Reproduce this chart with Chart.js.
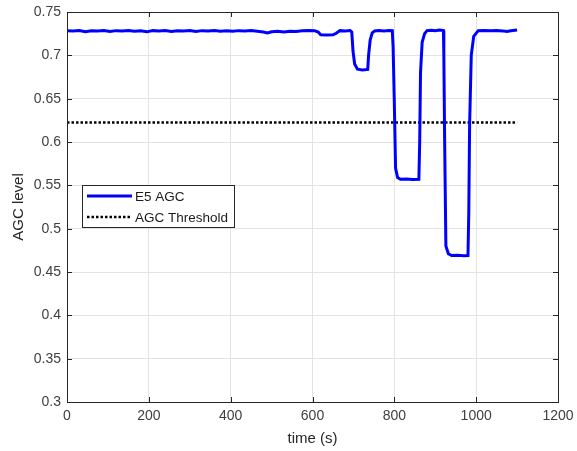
<!DOCTYPE html>
<html>
<head>
<meta charset="utf-8">
<script src="https://cdn.jsdelivr.net/npm/chart.js@4"></script>
<style>
  html, body { margin: 0; padding: 0; background: #fff; }
  #wrap { width: 577px; height: 451px; }
</style>
</head>
<body>
<div id="wrap"><canvas id="chart" width="577" height="451"></canvas></div>
<script>
// E5 AGC samples (time in s, level)
const tiempo = [
  0, 15, 30, 45, 60, 75, 90, 105, 120, 135, 150, 165, 180, 195, 210, 225, 240, 255, 270, 285,
  300, 315, 330, 345, 360, 375, 390, 405, 420, 435, 450, 465, 480, 490, 500, 515, 530, 545, 560, 575,
  590, 605, 614, 620, 635, 650, 658, 667, 680, 692, 696, 699, 703, 710, 722, 735, 737, 741, 746, 752,
  762, 775, 787, 795, 797, 800, 803, 808, 815, 830, 845, 860, 862, 864, 868, 874, 880, 890, 900, 910,
  920, 921, 923, 926, 932, 940, 955, 970, 980, 982, 984, 988, 994, 1005, 1020, 1035, 1050, 1065, 1075, 1085,
  1100
];
const agc = [
  0.7285, 0.7282, 0.7287, 0.7272, 0.7284, 0.7280, 0.7286, 0.7275, 0.7285, 0.7281, 0.7287, 0.7278, 0.7284, 0.7271, 0.7285, 0.7280, 0.7286, 0.7276, 0.7284, 0.7282,
  0.7286, 0.7274, 0.7285, 0.7281, 0.7286, 0.7279, 0.7284, 0.7277, 0.7285, 0.7282, 0.7286, 0.7278, 0.7270, 0.7258, 0.7272, 0.7278, 0.7270, 0.7279, 0.7275, 0.7284,
  0.7286, 0.7285, 0.7268, 0.7237, 0.7234, 0.7236, 0.7255, 0.7285, 0.7282, 0.7286, 0.7270, 0.7050, 0.6900, 0.6840, 0.6832, 0.6838, 0.7000, 0.7180, 0.7260, 0.7282,
  0.7286, 0.7281, 0.7287, 0.7285, 0.7100, 0.6450, 0.5700, 0.5590, 0.5570, 0.5572, 0.5568, 0.5570, 0.6000, 0.6800, 0.7150, 0.7250, 0.7285, 0.7290, 0.7284, 0.7291,
  0.7285, 0.7000, 0.6000, 0.4800, 0.4710, 0.4690, 0.4693, 0.4688, 0.4690, 0.5200, 0.6200, 0.7000, 0.7220, 0.7285, 0.7287, 0.7284, 0.7286, 0.7282, 0.7274, 0.7283,
  0.7292
];
const umbralTiempo = [0, 1100];
const umbral = [0.6225, 0.6225];

const ticksX = [0, 200, 400, 600, 800, 1000, 1200];
const ticksY = [0.3, 0.35, 0.4, 0.45, 0.5, 0.55, 0.6, 0.65, 0.7, 0.75];

const colorEje = '#262626';
const fuente = "'Liberation Sans', Arial, Helvetica, sans-serif";

// caja del eje con marcas hacia dentro (estilo MATLAB)
const cajaEjes = {
  id: 'cajaEjes',
  afterDatasetsDraw(chart) {
    const { ctx, chartArea: a, scales } = chart;
    const largo = 5;
    ctx.save();
    ctx.strokeStyle = colorEje;
    ctx.lineWidth = 1;
    ctx.beginPath();
    ticksX.forEach(v => {
      const px = Math.round(scales.x.getPixelForValue(v)) + 0.5;
      ctx.moveTo(px, a.bottom); ctx.lineTo(px, a.bottom - largo);
      ctx.moveTo(px, a.top); ctx.lineTo(px, a.top + largo);
    });
    ticksY.forEach(v => {
      const py = Math.round(scales.y.getPixelForValue(v)) + 0.5;
      ctx.moveTo(a.left, py); ctx.lineTo(a.left + largo, py);
      ctx.moveTo(a.right, py); ctx.lineTo(a.right - largo, py);
    });
    ctx.stroke();
    ctx.strokeRect(Math.round(a.left) + 0.5, Math.round(a.top) + 0.5,
      Math.round(a.right - a.left), Math.round(a.bottom - a.top));
    ctx.restore();
  }
};

// leyenda dentro del area de trazado
const leyenda = {
  id: 'leyenda',
  afterDraw(chart) {
    const { ctx } = chart;
    const x0 = 82, y0 = 185, w = 152, h = 42;
    ctx.save();
    ctx.fillStyle = '#fff';
    ctx.fillRect(x0, y0, w, h);
    ctx.strokeStyle = colorEje;
    ctx.lineWidth = 1;
    ctx.strokeRect(x0 + 0.5, y0 + 0.5, w, h);
    chart.data.datasets.forEach((ds, i) => {
      const y = y0 + 11 + i * 21;
      ctx.beginPath();
      ctx.strokeStyle = ds.borderColor;
      ctx.lineWidth = ds.borderWidth;
      ctx.setLineDash(ds.borderDash || []);
      ctx.moveTo(87, y);
      ctx.lineTo(132, y);
      ctx.stroke();
      ctx.setLineDash([]);
      ctx.fillStyle = '#1a1a1a';
      ctx.font = '13.5px ' + fuente;
      ctx.textBaseline = 'middle';
      ctx.fillText(ds.label, 135, y + 1);
    });
    ctx.restore();
  }
};

new Chart(document.getElementById('chart').getContext('2d'), {
  type: 'line',
  data: {
    datasets: [
      {
        label: 'E5 AGC',
        data: tiempo.map((t, i) => ({ x: t, y: agc[i] })),
        borderColor: '#0000ff',
        borderWidth: 3,
        pointRadius: 0,
        tension: 0
      },
      {
        label: 'AGC Threshold',
        data: umbralTiempo.map((t, i) => ({ x: t, y: umbral[i] })),
        borderColor: '#000000',
        borderWidth: 2.5,
        borderDash: [2.5, 2],
        pointRadius: 0
      }
    ]
  },
  options: {
    responsive: false,
    animation: false,
    layout: { padding: { left: 0, top: 12, right: 19, bottom: 0 } },
    plugins: { legend: { display: false }, tooltip: { enabled: false } },
    scales: {
      x: {
        type: 'linear',
        min: 0,
        max: 1200,
        afterFit: s => { s.height = 49; s.paddingLeft = 0; s.paddingRight = 0; },
        afterBuildTicks: s => { s.ticks = ticksX.map(v => ({ value: v })); },
        grid: { color: '#e3e3e3', drawTicks: false },
        border: { display: false },
        ticks: {
          padding: 6,
          color: '#404040',
          font: { family: fuente, size: 14 },
          maxRotation: 0,
          callback: v => String(v)
        },
        title: {
          display: true,
          text: 'time (s)',
          color: '#262626',
          font: { family: fuente, size: 15 },
          padding: { top: 0, bottom: 3 }
        }
      },
      y: {
        min: 0.3,
        max: 0.75,
        afterFit: s => { s.width = 67; s.paddingTop = 0; s.paddingBottom = 0; },
        afterBuildTicks: s => { s.ticks = ticksY.map(v => ({ value: v })); },
        grid: { color: '#e3e3e3', drawTicks: false },
        border: { display: false },
        ticks: {
          padding: 6,
          color: '#404040',
          font: { family: fuente, size: 14 },
          callback: v => String(+v.toFixed(2))
        },
        title: {
          display: true,
          text: 'AGC level',
          color: '#262626',
          font: { family: fuente, size: 15 },
          padding: { top: 10, bottom: 0 }
        }
      }
    }
  },
  plugins: [cajaEjes, leyenda]
});
</script>
</body>
</html>
